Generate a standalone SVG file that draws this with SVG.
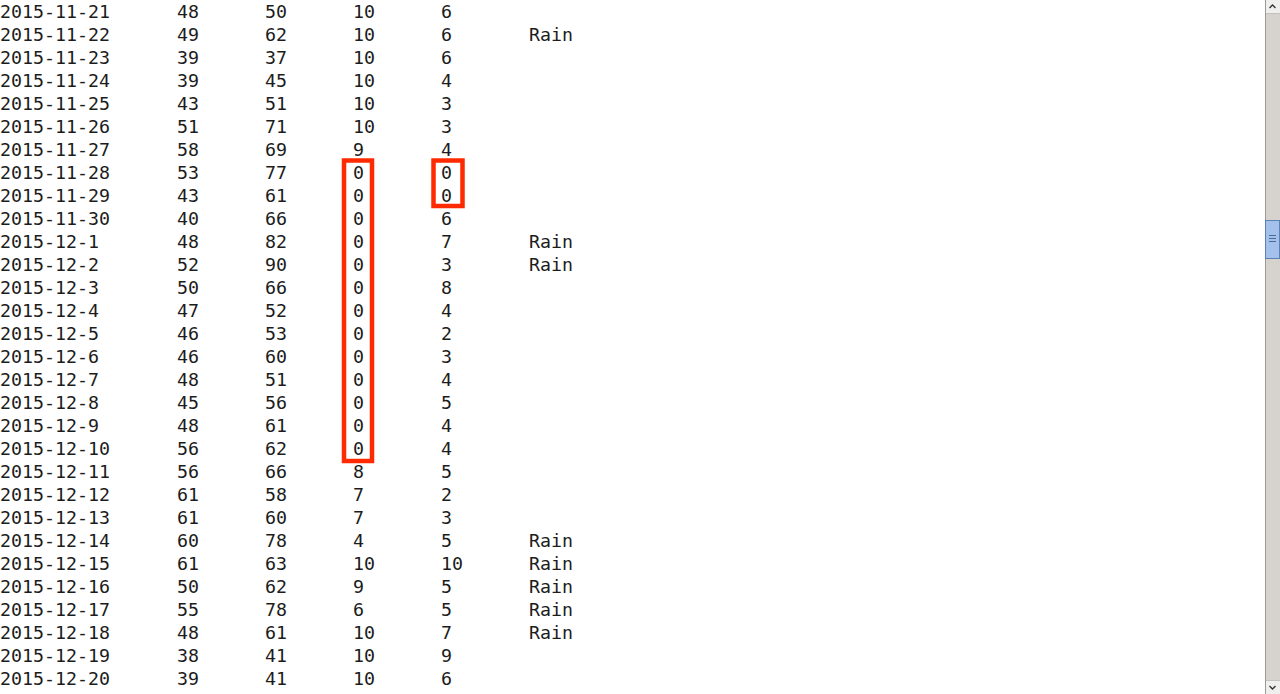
<svg xmlns="http://www.w3.org/2000/svg" width="1280" height="694" viewBox="0 0 1280 694">
<style>
text { font-family: "DejaVu Sans Mono", "Liberation Mono", monospace; font-size: 18.27px; fill: #1c1c1c; }
.box { fill: none; stroke: #ff2a00; stroke-width: 4.5; }
</style>
<rect x="0" y="0" width="1280" height="694" fill="#ffffff"/>
<g id="table">
<text y="18"><tspan x="0">2015-11-21</tspan><tspan x="177">48</tspan><tspan x="265">50</tspan><tspan x="353">10</tspan><tspan x="441">6</tspan></text>
<text y="41"><tspan x="0">2015-11-22</tspan><tspan x="177">49</tspan><tspan x="265">62</tspan><tspan x="353">10</tspan><tspan x="441">6</tspan><tspan x="529">Rain</tspan></text>
<text y="64"><tspan x="0">2015-11-23</tspan><tspan x="177">39</tspan><tspan x="265">37</tspan><tspan x="353">10</tspan><tspan x="441">6</tspan></text>
<text y="87"><tspan x="0">2015-11-24</tspan><tspan x="177">39</tspan><tspan x="265">45</tspan><tspan x="353">10</tspan><tspan x="441">4</tspan></text>
<text y="110"><tspan x="0">2015-11-25</tspan><tspan x="177">43</tspan><tspan x="265">51</tspan><tspan x="353">10</tspan><tspan x="441">3</tspan></text>
<text y="133"><tspan x="0">2015-11-26</tspan><tspan x="177">51</tspan><tspan x="265">71</tspan><tspan x="353">10</tspan><tspan x="441">3</tspan></text>
<text y="156"><tspan x="0">2015-11-27</tspan><tspan x="177">58</tspan><tspan x="265">69</tspan><tspan x="353">9</tspan><tspan x="441">4</tspan></text>
<text y="179"><tspan x="0">2015-11-28</tspan><tspan x="177">53</tspan><tspan x="265">77</tspan><tspan x="353">0</tspan><tspan x="441">0</tspan></text>
<text y="202"><tspan x="0">2015-11-29</tspan><tspan x="177">43</tspan><tspan x="265">61</tspan><tspan x="353">0</tspan><tspan x="441">0</tspan></text>
<text y="225"><tspan x="0">2015-11-30</tspan><tspan x="177">40</tspan><tspan x="265">66</tspan><tspan x="353">0</tspan><tspan x="441">6</tspan></text>
<text y="248"><tspan x="0">2015-12-1</tspan><tspan x="177">48</tspan><tspan x="265">82</tspan><tspan x="353">0</tspan><tspan x="441">7</tspan><tspan x="529">Rain</tspan></text>
<text y="271"><tspan x="0">2015-12-2</tspan><tspan x="177">52</tspan><tspan x="265">90</tspan><tspan x="353">0</tspan><tspan x="441">3</tspan><tspan x="529">Rain</tspan></text>
<text y="294"><tspan x="0">2015-12-3</tspan><tspan x="177">50</tspan><tspan x="265">66</tspan><tspan x="353">0</tspan><tspan x="441">8</tspan></text>
<text y="317"><tspan x="0">2015-12-4</tspan><tspan x="177">47</tspan><tspan x="265">52</tspan><tspan x="353">0</tspan><tspan x="441">4</tspan></text>
<text y="340"><tspan x="0">2015-12-5</tspan><tspan x="177">46</tspan><tspan x="265">53</tspan><tspan x="353">0</tspan><tspan x="441">2</tspan></text>
<text y="363"><tspan x="0">2015-12-6</tspan><tspan x="177">46</tspan><tspan x="265">60</tspan><tspan x="353">0</tspan><tspan x="441">3</tspan></text>
<text y="386"><tspan x="0">2015-12-7</tspan><tspan x="177">48</tspan><tspan x="265">51</tspan><tspan x="353">0</tspan><tspan x="441">4</tspan></text>
<text y="409"><tspan x="0">2015-12-8</tspan><tspan x="177">45</tspan><tspan x="265">56</tspan><tspan x="353">0</tspan><tspan x="441">5</tspan></text>
<text y="432"><tspan x="0">2015-12-9</tspan><tspan x="177">48</tspan><tspan x="265">61</tspan><tspan x="353">0</tspan><tspan x="441">4</tspan></text>
<text y="455"><tspan x="0">2015-12-10</tspan><tspan x="177">56</tspan><tspan x="265">62</tspan><tspan x="353">0</tspan><tspan x="441">4</tspan></text>
<text y="478"><tspan x="0">2015-12-11</tspan><tspan x="177">56</tspan><tspan x="265">66</tspan><tspan x="353">8</tspan><tspan x="441">5</tspan></text>
<text y="501"><tspan x="0">2015-12-12</tspan><tspan x="177">61</tspan><tspan x="265">58</tspan><tspan x="353">7</tspan><tspan x="441">2</tspan></text>
<text y="524"><tspan x="0">2015-12-13</tspan><tspan x="177">61</tspan><tspan x="265">60</tspan><tspan x="353">7</tspan><tspan x="441">3</tspan></text>
<text y="547"><tspan x="0">2015-12-14</tspan><tspan x="177">60</tspan><tspan x="265">78</tspan><tspan x="353">4</tspan><tspan x="441">5</tspan><tspan x="529">Rain</tspan></text>
<text y="570"><tspan x="0">2015-12-15</tspan><tspan x="177">61</tspan><tspan x="265">63</tspan><tspan x="353">10</tspan><tspan x="441">10</tspan><tspan x="529">Rain</tspan></text>
<text y="593"><tspan x="0">2015-12-16</tspan><tspan x="177">50</tspan><tspan x="265">62</tspan><tspan x="353">9</tspan><tspan x="441">5</tspan><tspan x="529">Rain</tspan></text>
<text y="616"><tspan x="0">2015-12-17</tspan><tspan x="177">55</tspan><tspan x="265">78</tspan><tspan x="353">6</tspan><tspan x="441">5</tspan><tspan x="529">Rain</tspan></text>
<text y="639"><tspan x="0">2015-12-18</tspan><tspan x="177">48</tspan><tspan x="265">61</tspan><tspan x="353">10</tspan><tspan x="441">7</tspan><tspan x="529">Rain</tspan></text>
<text y="662"><tspan x="0">2015-12-19</tspan><tspan x="177">38</tspan><tspan x="265">41</tspan><tspan x="353">10</tspan><tspan x="441">9</tspan></text>
<text y="685"><tspan x="0">2015-12-20</tspan><tspan x="177">39</tspan><tspan x="265">41</tspan><tspan x="353">10</tspan><tspan x="441">6</tspan></text>
</g>
<g id="highlights">
<rect class="box" x="344" y="160.5" width="28" height="300.5"/>
<rect class="box" x="433.5" y="160.5" width="29" height="45.5"/>
</g>
<g id="scrollbar">
<rect x="1265" y="0" width="15" height="694" fill="#d6d3cf"/>
<rect x="1265" y="0" width="15" height="13" fill="#efefee"/>
<rect x="1265" y="681" width="15" height="13" fill="#efefee"/>
<line x1="1265" y1="13.5" x2="1280" y2="13.5" stroke="#c4c2bf" stroke-width="1"/>
<line x1="1265" y1="680.5" x2="1280" y2="680.5" stroke="#c4c2bf" stroke-width="1"/>
<line x1="1265.5" y1="0" x2="1265.5" y2="694" stroke="#9c9a98" stroke-width="1"/>
<path d="M1269.5 8 L1272.5 5 L1275.5 8" fill="none" stroke="#333" stroke-width="1.3"/>
<path d="M1269.5 686 L1272.5 689 L1275.5 686" fill="none" stroke="#333" stroke-width="1.3"/>
<rect x="1265.5" y="220.5" width="14" height="38" fill="#a3c1ea" stroke="#5c80b8" stroke-width="1"/>
<line x1="1269" y1="235.5" x2="1276" y2="235.5" stroke="#4a6a9a" stroke-width="1"/>
<line x1="1269" y1="238.5" x2="1276" y2="238.5" stroke="#4a6a9a" stroke-width="1"/>
<line x1="1269" y1="241.5" x2="1276" y2="241.5" stroke="#4a6a9a" stroke-width="1"/>
</g>
</svg>
